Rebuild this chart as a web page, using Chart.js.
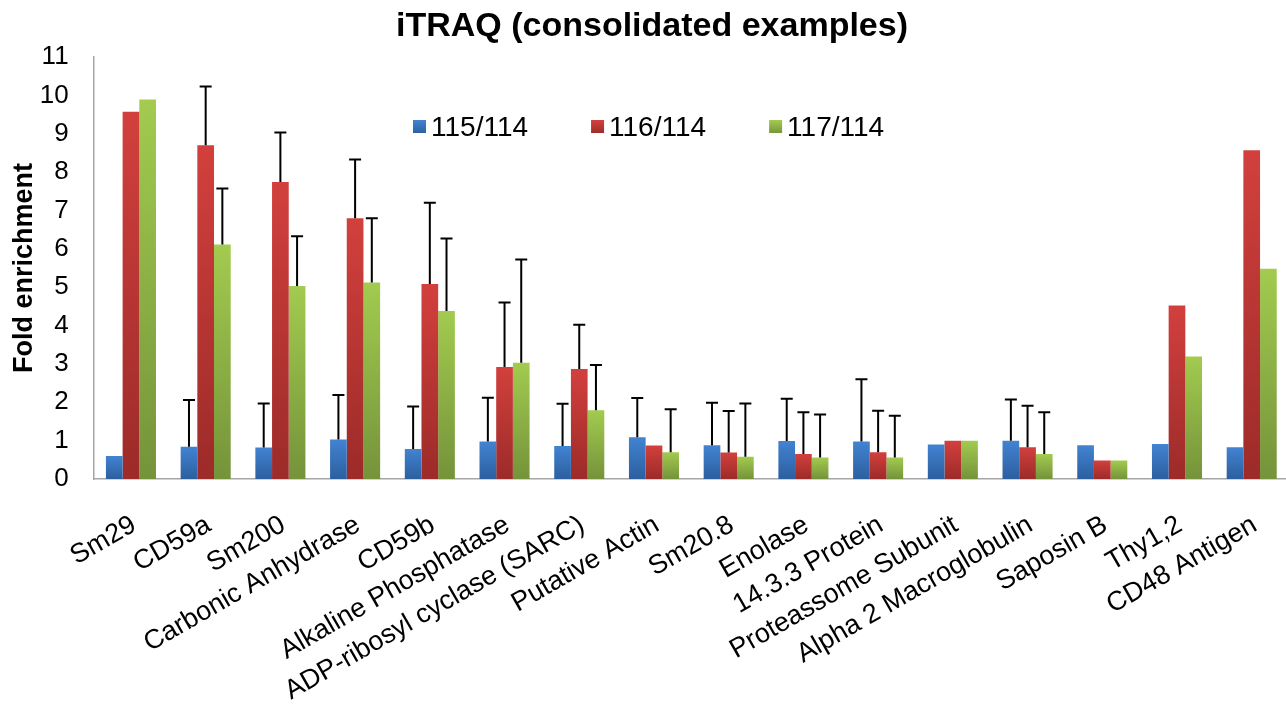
<!DOCTYPE html>
<html>
<head>
<meta charset="utf-8">
<script src="https://cdn.jsdelivr.net/npm/chart.js@4.4.1/dist/chart.umd.min.js"></script>
<style>
  html, body { margin: 0; padding: 0; background: #fff; overflow: hidden; width: 1286px; height: 714px; }
  #c { display: block; }
</style>
</head>
<body>
<canvas id="c" width="1298" height="714"></canvas>
<script>
const TITLE = 'iTRAQ (consolidated examples)';
const Y_TITLE = 'Fold enrichment';
const categories = ['Sm29', 'CD59a', 'Sm200', 'Carbonic Anhydrase', 'CD59b', 'Alkaline Phosphatase',
  'ADP-ribosyl cyclase (SARC)', 'Putative Actin', 'Sm20.8', 'Enolase', '14.3.3 Protein',
  'Proteassome Subunit', 'Alpha 2 Macroglobulin', 'Saposin B', 'Thy1,2', 'CD48 Antigen'];
const seriesNames = ['115/114', '116/114', '117/114'];
const ratio115 = [0.60, 0.84, 0.82, 1.03, 0.78, 0.98, 0.86, 1.09, 0.88, 0.99, 0.98, 0.90, 1.00, 0.88, 0.91, 0.83];
const ratio116 = [9.57, 8.70, 7.74, 6.80, 5.08, 2.92, 2.87, 0.87, 0.69, 0.65, 0.70, 1.00, 0.83, 0.48, 4.52, 8.57];
const ratio117 = [9.89, 6.11, 5.03, 5.12, 4.38, 3.03, 1.79, 0.70, 0.58, 0.56, 0.56, 1.00, 0.65, 0.48, 3.19, 5.48];
const err115 = [null, 1.22, 1.15, 1.16, 1.11, 1.14, 1.10, 1.02, 1.11, 1.10, 1.62, null, 1.07, null, null, null];
const err116 = [null, 1.53, 1.29, 1.53, 2.12, 1.68, 1.15, null, 1.08, 1.09, 1.08, null, 1.08, null, null, null];
const err117 = [null, 1.46, 1.30, 1.68, 1.89, 2.69, 1.18, 1.12, 1.39, 1.12, 1.09, null, 1.09, null, null, null];
const yTicks = [0, 1, 2, 3, 4, 5, 6, 7, 8, 9, 10, 11];

const FONT = "'Liberation Sans', Arial, sans-serif";
const palette = [
  { top: '#4283d2', bottom: '#2c5f9f', solid: '#3a72bb' },
  { top: '#d2403d', bottom: '#9c2b29', solid: '#bd3835' },
  { top: '#a2cb4f', bottom: '#75933a', solid: '#8fb245' }
];

function gradientFill(idx) {
  return (ctx) => {
    const chart = ctx.chart;
    if (!chart.chartArea || ctx.type !== 'data') return palette[idx].solid;
    const y = chart.scales.y;
    const v = ctx.raw;
    const top = y.getPixelForValue(v);
    const bot = y.getPixelForValue(0);
    if (!isFinite(top) || Math.abs(bot - top) < 1) return palette[idx].solid;
    const g = chart.ctx.createLinearGradient(0, top, 0, bot);
    g.addColorStop(0, palette[idx].top);
    g.addColorStop(1, palette[idx].bottom);
    return g;
  };
}

const errorSets = [err115, err116, err117];

const errorBarPlugin = {
  id: 'errorBars',
  afterDatasetsDraw(chart) {
    const ctx = chart.ctx;
    const yScale = chart.scales.y;
    ctx.save();
    ctx.strokeStyle = '#000';
    ctx.lineWidth = 2;
    chart.data.datasets.forEach((ds, di) => {
      const meta = chart.getDatasetMeta(di);
      const errs = errorSets[di];
      meta.data.forEach((bar, i) => {
        const e = errs[i];
        if (e == null) return;
        const v = ds.data[i];
        const x = bar.x;
        const y0 = yScale.getPixelForValue(v);
        const y1 = yScale.getPixelForValue(v + e);
        ctx.beginPath();
        ctx.moveTo(x, y0);
        ctx.lineTo(x, y1);
        ctx.moveTo(x - 6, y1);
        ctx.lineTo(x + 6, y1);
        ctx.stroke();
      });
    });
    ctx.restore();
  }
};

const titleLegendPlugin = {
  id: 'titleLegend',
  afterDraw(chart) {
    const ctx = chart.ctx;
    ctx.save();
    ctx.fillStyle = '#000';
    ctx.font = 'bold 34px ' + FONT;
    ctx.textAlign = 'center';
    ctx.textBaseline = 'middle';
    ctx.fillText(TITLE, 652, 27);

    ctx.font = '28px ' + FONT;
    ctx.textAlign = 'left';
    let x = 413;
    const yc = 127;
    chart.data.datasets.forEach((ds, di) => {
      const g = ctx.createLinearGradient(0, yc - 7, 0, yc + 7);
      g.addColorStop(0, palette[di].top);
      g.addColorStop(1, palette[di].bottom);
      ctx.fillStyle = g;
      ctx.fillRect(x, yc - 7, 13, 13);
      ctx.fillStyle = '#000';
      ctx.fillText(ds.label, x + 18, yc + 1);
      x += 18 + ctx.measureText(ds.label).width + 63;
    });
    ctx.restore();
  }
};

new Chart(document.getElementById('c'), {
  type: 'bar',
  data: {
    labels: categories,
    datasets: [
      { label: seriesNames[0], data: ratio115, backgroundColor: gradientFill(0) },
      { label: seriesNames[1], data: ratio116, backgroundColor: gradientFill(1) },
      { label: seriesNames[2], data: ratio117, backgroundColor: gradientFill(2) }
    ]
  },
  options: {
    responsive: false,
    animation: false,
    devicePixelRatio: 1,
    layout: { padding: { top: 57, left: 0, right: 3, bottom: 0 } },
    datasets: { bar: { barPercentage: 1.0, categoryPercentage: 0.67 } },
    plugins: {
      legend: { display: false },
      title: { display: false },
      tooltip: { enabled: false }
    },
    scales: {
      x: {
        grid: { display: false, drawTicks: false, tickLength: 0 },
        border: { display: true, color: '#a6a6a6', width: 1.5 },
        ticks: {
          autoSkip: false, minRotation: 30, maxRotation: 30, padding: 30, labelOffset: 3,
          color: '#000', font: { family: FONT, size: 27 }
        },
        afterFit(scale) { scale.height = 714 - 479; }
      },
      y: {
        min: 0, max: 11,
        afterBuildTicks(scale) { scale.ticks = yTicks.map(v => ({ value: v })); },
        grid: { display: false, drawTicks: false, tickLength: 0 },
        border: { display: true, color: '#a6a6a6', width: 1.5 },
        ticks: { padding: 25, color: '#000', font: { family: FONT, size: 26 } },
        title: { display: true, text: Y_TITLE, color: '#000', font: { family: FONT, size: 27, weight: 'bold' }, padding: { top: 8, bottom: 0 } },
        afterFit(scale) { scale.width = 93.6; }
      }
    }
  },
  plugins: [errorBarPlugin, titleLegendPlugin]
});
</script>
</body>
</html>
